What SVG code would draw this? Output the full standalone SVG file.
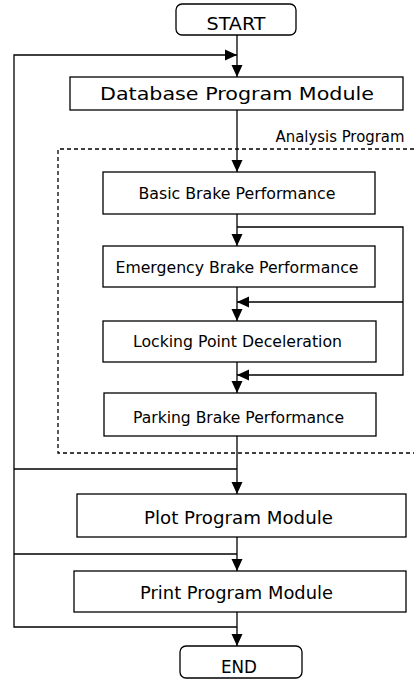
<svg xmlns="http://www.w3.org/2000/svg" width="414" height="680" viewBox="0 0 414 680">
<defs>
<marker id="ah" markerUnits="userSpaceOnUse" markerWidth="12" markerHeight="12" viewBox="0 0 12 12" refX="12" refY="6" orient="auto">
<path d="M0,0.5 L12,6 L0,11.5 Z" fill="#000"/>
</marker>
<style>
.box{fill:#fff;stroke:#000;stroke-width:1.3}
.ln{fill:none;stroke:#000;stroke-width:1.3}
.dash{fill:none;stroke:#000;stroke-width:1.3;stroke-dasharray:4 3}
text{font-family:"DejaVu Sans","Liberation Sans",sans-serif;fill:#000;text-anchor:middle}
.big{font-size:18px}
.mid{font-size:16px}
.lab{font-size:15px}
</style>
</defs>
<rect width="414" height="680" fill="#fff"/>
<g id="analysis-region">
<path class="dash" d="M414 149 H58 V453 H414"/>
<text x="340" y="141.5" class="lab" textLength="129" lengthAdjust="spacingAndGlyphs">Analysis Program</text>
</g>
<g id="connectors">
<path class="ln" d="M237 35 V77" marker-end="url(#ah)"/>
<path class="ln" d="M237 627 H14 V55 H237" marker-end="url(#ah)"/>
<path class="ln" d="M237 469 H14"/>
<path class="ln" d="M237 554 H14"/>
<path class="ln" d="M237 110 V172" marker-end="url(#ah)"/>
<path class="ln" d="M237 214 V246" marker-end="url(#ah)"/>
<path class="ln" d="M237 227 H403 V375 H237" marker-end="url(#ah)"/>
<path class="ln" d="M403 302 H237" marker-end="url(#ah)"/>
<path class="ln" d="M237 287 V321" marker-end="url(#ah)"/>
<path class="ln" d="M237 362 V393" marker-end="url(#ah)"/>
<path class="ln" d="M237 436 V494" marker-end="url(#ah)"/>
<path class="ln" d="M237 537 V571" marker-end="url(#ah)"/>
<path class="ln" d="M237 612 V646" marker-end="url(#ah)"/>
</g>
<g id="start">
<rect class="box" x="176" y="4" width="120" height="31" rx="6"/>
<text x="236" y="30" class="big" textLength="59" lengthAdjust="spacingAndGlyphs">START</text>
</g>
<g id="database">
<rect class="box" x="70" y="77" width="333" height="33"/>
<text x="237" y="100" class="big" textLength="274" lengthAdjust="spacingAndGlyphs">Database Program Module</text>
</g>
<g id="basic">
<rect class="box" x="103" y="172" width="272" height="42"/>
<text x="237" y="199" class="mid" textLength="197" lengthAdjust="spacingAndGlyphs">Basic Brake Performance</text>
</g>
<g id="emergency">
<rect class="box" x="103" y="246" width="272" height="41"/>
<text x="237" y="273" class="mid" textLength="243" lengthAdjust="spacingAndGlyphs">Emergency Brake Performance</text>
</g>
<g id="locking">
<rect class="box" x="103" y="321" width="273" height="41"/>
<text x="237.5" y="347" class="mid" textLength="209" lengthAdjust="spacingAndGlyphs">Locking Point Deceleration</text>
</g>
<g id="parking">
<rect class="box" x="104" y="393" width="272" height="43"/>
<text x="238.5" y="423" class="mid" textLength="211" lengthAdjust="spacingAndGlyphs">Parking Brake Performance</text>
</g>
<g id="plot">
<rect class="box" x="77" y="494" width="329" height="43"/>
<text x="238.5" y="524" class="big" textLength="189" lengthAdjust="spacingAndGlyphs">Plot Program Module</text>
</g>
<g id="print">
<rect class="box" x="74" y="571" width="332" height="41"/>
<text x="236.5" y="599" class="big" textLength="193" lengthAdjust="spacingAndGlyphs">Print Program Module</text>
</g>
<g id="end">
<rect class="box" x="180" y="646" width="122" height="32" rx="6"/>
<text x="239" y="673" class="big" textLength="36" lengthAdjust="spacingAndGlyphs">END</text>
</g>
</svg>
